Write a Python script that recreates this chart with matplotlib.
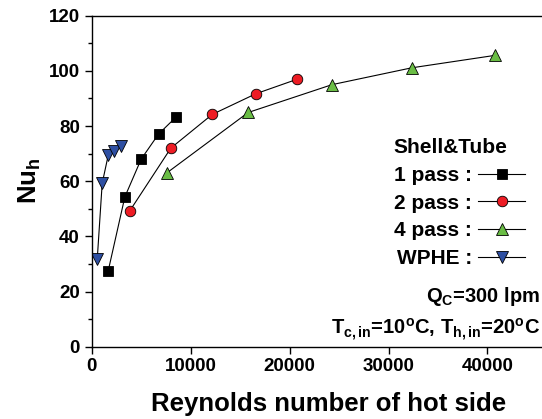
import matplotlib.pyplot as plt
from matplotlib.ticker import MultipleLocator

plt.rcParams["font.family"] = ["Liberation Sans", "DejaVu Sans"]
plt.rcParams["font.weight"] = "bold"
plt.rcParams["axes.labelweight"] = "bold"
plt.rcParams["mathtext.fontset"] = "custom"
plt.rcParams["mathtext.rm"] = "Liberation Sans:bold"
plt.rcParams["mathtext.it"] = "Liberation Sans:bold"
plt.rcParams["mathtext.bf"] = "Liberation Sans:bold"

# Shell & tube, 1 pass
re_1pass = [1680, 3360, 5010, 6770, 8520]
nu_1pass = [27.5, 54.3, 68.0, 77.1, 83.2]
# Shell & tube, 2 pass
re_2pass = [3870, 8010, 12190, 16600, 20800]
nu_2pass = [49.3, 72.0, 84.2, 91.7, 97.0]
# Shell & tube, 4 pass
re_4pass = [7640, 15820, 24300, 32350, 40740]
nu_4pass = [63.1, 84.9, 95.0, 101.1, 105.6]
# WPHE
re_wphe = [570, 1070, 1680, 2290, 2960]
nu_wphe = [31.7, 59.2, 69.4, 71.0, 72.8]

series = [
    ("1 pass :", re_1pass, nu_1pass, "s", "black", 6.8),
    ("2 pass :", re_2pass, nu_2pass, "o", "#ED1C24", 7.6),
    ("4 pass :", re_4pass, nu_4pass, "^", "#6ABD45", 8.6),
    ("WPHE :", re_wphe, nu_wphe, "v", "#2E4FA2", 8.6),
]

fig = plt.figure(figsize=(5.42, 4.19), dpi=100)
ax = fig.add_axes([0.169, 0.1726, 0.84, 0.79])

for label, x, y, mk, col, ms in series:
    ax.plot(x, y, color="black", lw=0.8, marker=mk, ms=ms,
            mfc=col, mec="black", mew=0.6, label=label)

ax.set_xlim(0, 46000)
ax.set_ylim(0, 120)
ax.xaxis.set_major_locator(MultipleLocator(10000))
ax.yaxis.set_major_locator(MultipleLocator(20))
ax.yaxis.set_minor_locator(MultipleLocator(10))
ax.spines["right"].set_visible(False)
for s in ax.spines.values():
    s.set_linewidth(1.0)
ax.tick_params(which="both", direction="out", labelsize=13.5, width=1.0)
ax.tick_params(which="major", length=5)
ax.tick_params(which="minor", length=3)

ax.set_xlabel("Reynolds number of hot side", fontsize=18.5, labelpad=12)
ax.xaxis.label.set_x(0.52)
ax.set_ylabel("Nu$_h$", fontsize=18.5, labelpad=4)

leg = ax.legend(loc="upper left", bbox_to_anchor=(0.664, 0.63),
                frameon=False, markerfirst=False, title="Shell&Tube",
                title_fontproperties={"size": 15, "weight": "bold"},
                prop={"size": 15, "weight": "bold"}, handlelength=2.25,
                handletextpad=0.3, labelspacing=0.42, borderpad=0,
                borderaxespad=0, alignment="left")

ax.text(0.985, 0.152, "Q$_C$=300 lpm", transform=ax.transAxes,
        ha="right", va="center", fontsize=14.5)
ax.text(0.985, 0.05, "T$_{c,in}$=10$^o$C, T$_{h,in}$=20$^o$C",
        transform=ax.transAxes, ha="right", va="center", fontsize=14.5)

fig.canvas.draw()
plt.setp(ax.get_xticklabels() + ax.get_yticklabels(), fontweight="bold")

fig.savefig("out.png", dpi=100)
